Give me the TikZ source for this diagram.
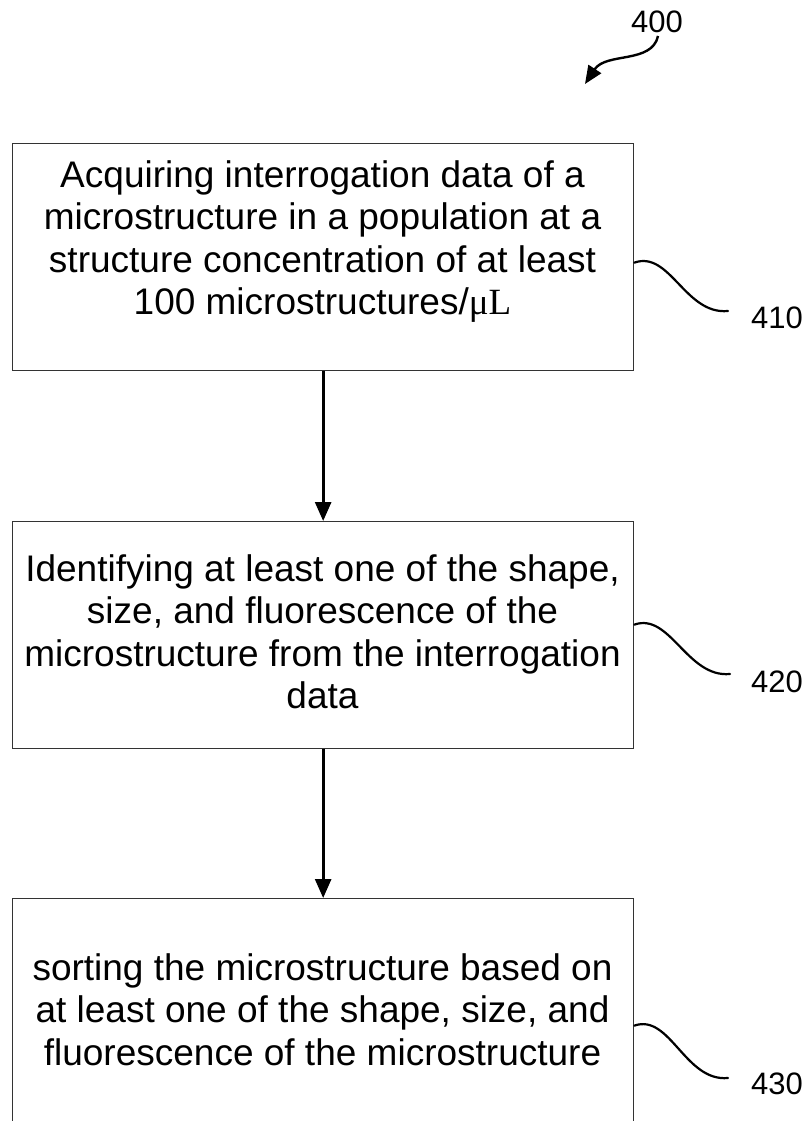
\documentclass[tikz,border=0pt]{standalone}
\usepackage{fontspec}
\setmainfont{Liberation Sans}
\newfontfamily\mufont{Liberation Serif}
\usetikzlibrary{arrows.meta}
\begin{document}
\begin{tikzpicture}[x=1pt,y=-1pt,
  stepbox/.style={draw=black!80, line width=1.3pt, minimum width=621pt, minimum height=227pt, inner sep=0pt, anchor=north west},
  steptext/.style={align=center, font=\fontsize{37}{42.5}\selectfont, anchor=base, inner sep=0pt},
  flow/.style={line width=2.8pt, -{Triangle[length=19pt,width=16pt]}},
  lead/.style={line width=2.2pt, line cap=round},
  reflabel/.style={font=\fontsize{31}{36}\selectfont, inner sep=0pt, anchor=base west}]
\useasboundingbox (0,0) rectangle (807,1121);
% boxes
\node[stepbox] (b1) at (12,143) {};
\node[stepbox] (b2) at (12,521) {};
\node[stepbox] (b3) at (12,898) {};
% texts (anchor = baseline of the last line)
\node[steptext] (t1) at (322.5,314.5) {Acquiring interrogation data of a\\microstructure in a population at a\\structure concentration of at least\\100 microstructures/{\mufont μL}};
\node[steptext] (t2) at (322.5,708.5) {Identifying at least one of the shape,\\size, and fluorescence of the\\microstructure from the interrogation\\data};
\node[steptext] (t3) at (322.5,1065) {sorting the microstructure based on\\at least one of the shape, size, and\\fluorescence of the microstructure};
% flow arrows
\draw[flow] (b1.south) -- (b2.north);
\draw[flow] (b2.south) -- (b3.north);
% reference labels
\node[reflabel] (l400) at (631,33) {400};
\node[reflabel] (l410) at (751,328) {410};
\node[reflabel] (l420) at (751,692) {420};
\node[reflabel] (l430) at (751,1094) {430};
% leader curves
\coordinate (e1) at (728,311);
\coordinate (e2) at (730,674);
\coordinate (e3) at (728,1078);
\draw[lead] ([yshift=-5.5pt]b1.east) .. controls (670,250) and (685,315) .. (e1);
\draw[lead] ([yshift=10.5pt]b2.east) .. controls (670,612) and (687,678) .. (e2);
\draw[lead] ([yshift=-13.5pt]b3.east) .. controls (670,1013) and (685,1082) .. (e3);
% figure arrow
\coordinate (a0) at (658,36);
\coordinate (a1) at (585,84);
\draw[line width=2.4pt, -{Triangle[length=18pt,width=15pt]}] (a0) .. controls (652,64) and (606,52) .. (a1);
\end{tikzpicture}
\end{document}
